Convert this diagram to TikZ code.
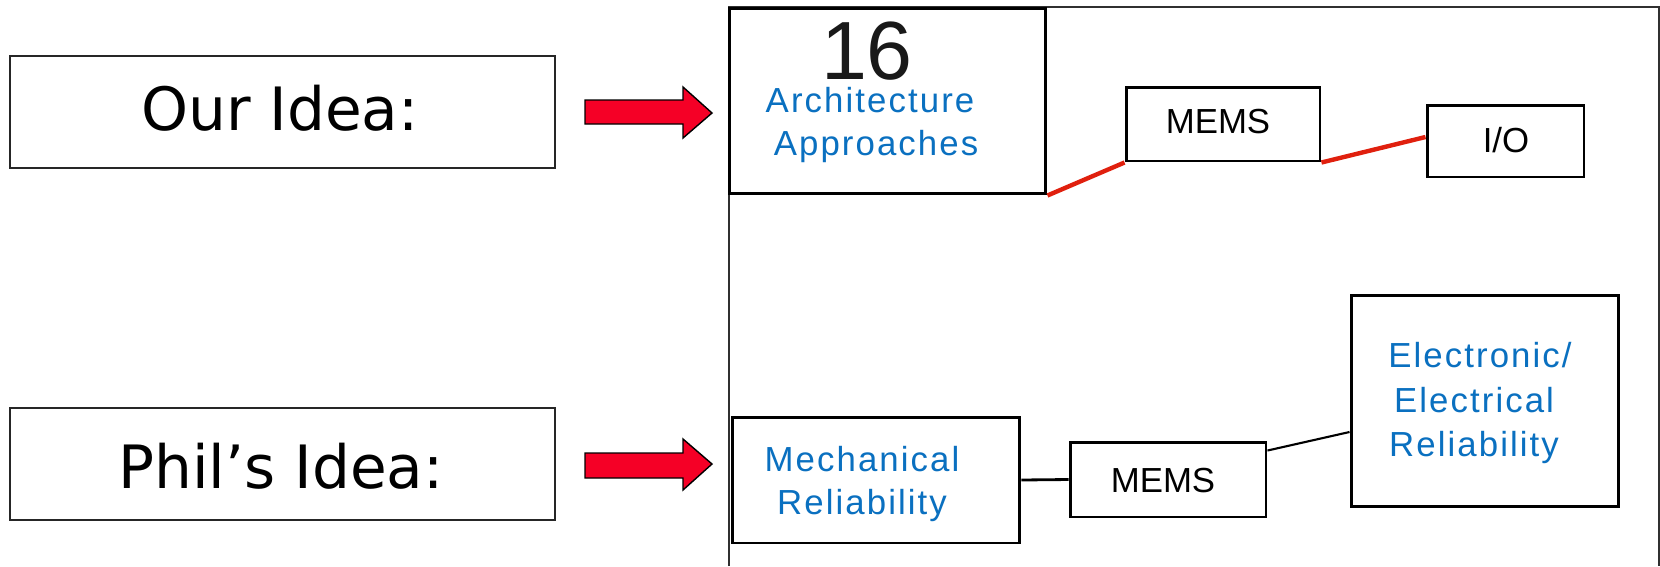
\documentclass[tikz,border=0pt]{standalone}
\usepackage{fontspec}
\setmainfont{Liberation Sans}
\newfontfamily\handfont{DejaVu Sans}
\newfontfamily\bluefont[LetterSpace=6]{Liberation Sans}
\usetikzlibrary{calc}
\definecolor{txtblue}{HTML}{0A70C0}
\definecolor{linered}{HTML}{E0200E}
\definecolor{arrowred}{HTML}{F50026}
\definecolor{framegray}{HTML}{303030}
\tikzset{
  boxthick/.style={draw=black, line width=1.7pt, fill=white, inner sep=0pt},
  boxthin/.style={draw=black!85, line width=1pt, inner sep=0pt},
  bluetxt/.style={text=txtblue, font=\bluefont\fontsize{19.8}{22}\selectfont, anchor=base, inner sep=0pt},
  blacktxt/.style={text=black, font=\fontsize{19.8}{22}\selectfont, anchor=base, inner sep=0pt},
  handtxt/.style={text=black, font=\handfont\fontsize{34}{40}\selectfont, anchor=base, inner sep=0pt},
  redline/.style={draw=linered, line width=2.5pt},
  blackline/.style={draw=black, line width=1.6pt},
  fatarrow/.style={draw=black, line width=0.8pt, fill=arrowred, line join=miter}
}
\begin{document}
\begin{tikzpicture}[x=0.02cm, y=-0.02cm]
\useasboundingbox (0,0) rectangle (1660,566);
% left label boxes
\node[boxthin, minimum width=10.9cm, minimum height=2.24cm] (our) at (282.5,112) {};
\node[handtxt] (ourt) at (280,130) {Our Idea:};
\node[boxthin, minimum width=10.9cm, minimum height=2.24cm] (phil) at (282.5,464) {};
\node[handtxt] (philt) at (281,488) {Phil’s Idea:};
% red block arrows
\draw[fatarrow] (585,100) -- (683,100) -- (683,87) -- (712,113) -- (683,138) -- (683,124) -- (585,124) -- cycle;
\draw[fatarrow] (585,453) -- (683,453) -- (683,439) -- (712,464) -- (683,490) -- (683,478) -- (585,478) -- cycle;
% panel frame
\draw[draw=framegray, line width=1.1pt] (729,566) -- (729,7) -- (1659,7) -- (1659,566);
% top row
\node[boxthick, minimum width=6.34cm, minimum height=3.72cm] (arch) at (887.5,101) {};
\node[anchor=base, inner sep=0pt, font=\fontsize{47}{50}\selectfont, text=black!90] (num) at (867,79) {16};
\node[bluetxt] (archt1) at (870,112) {Architecture};
\node[bluetxt] (archt2) at (876,155) {Approaches};
\node[boxthick, minimum width=3.88cm, minimum height=1.48cm] (mems1) at (1223,124) {};
\node[blacktxt] (mems1t) at (1218,133) {MEMS};
\node[boxthick, minimum width=3.14cm, minimum height=1.44cm] (io) at (1505.5,141) {};
\node[blacktxt] (iot) at (1506,152) {I/O};
\draw[redline] (arch.south east) -- (mems1.south west);
\draw[redline] (mems1.south east) -- ($(io.west)+(0,-4)$);
% bottom row
\node[boxthick, minimum width=5.76cm, minimum height=2.52cm] (mech) at (876,480) {};
\node[bluetxt] (mecht1) at (862,471) {Mechanical};
\node[bluetxt] (mecht2) at (862,514) {Reliability};
\node[boxthick, minimum width=3.92cm, minimum height=1.5cm] (mems2) at (1168,479.5) {};
\node[blacktxt] (mems2t) at (1163,492) {MEMS};
\node[boxthick, minimum width=5.36cm, minimum height=4.24cm] (elec) at (1485,401) {};
\node[bluetxt] (elect1) at (1480,367) {Electronic/};
\node[bluetxt] (elect2) at (1474,412) {Electrical};
\node[bluetxt] (elect3) at (1474,456) {Reliability};
\draw[blackline] (mech.east) -- (mems2.west);
\draw[blackline, line width=1.2pt] ($(mems2.north east)+(0,10)$) -- ($(elec.west)+(0,31)$);
\end{tikzpicture}
\end{document}
